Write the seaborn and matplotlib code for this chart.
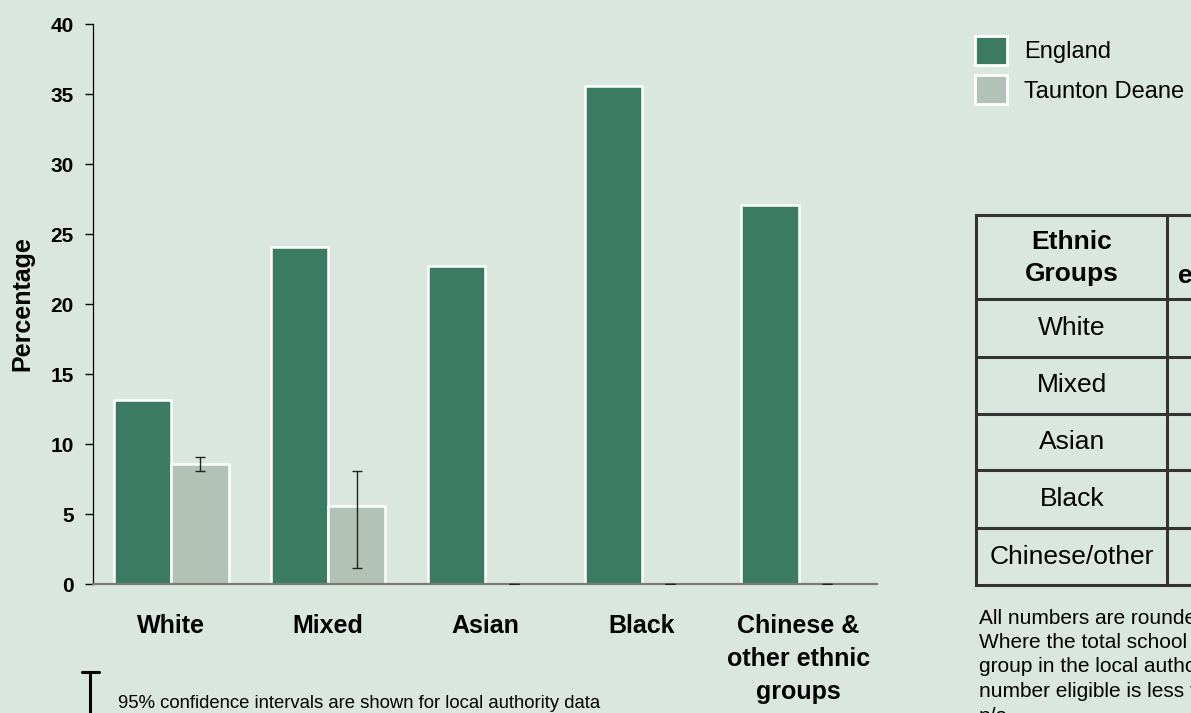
import numpy as np
import pandas as pd
import matplotlib
matplotlib.use("Agg")
import matplotlib.pyplot as plt
import seaborn as sns
from matplotlib.patches import Patch

# Chart data
groups = ["White", "Mixed", "Asian", "Black", "Chinese &\nother ethnic\ngroups"]
series = ["England", "Taunton Deane"]
england = [13.2, 24.1, 22.7, 35.6, 27.1]
taunton = [8.6, 5.6, np.nan, np.nan, np.nan]
ci_low = [8.1, 1.2, 0, 0, 0]
ci_high = [9.1, 8.1, 0, 0, 0]
yticks = [0, 5, 10, 15, 20, 25, 30, 35, 40]

# Side table / notes text
table_header = "Ethnic\nGroups"
table_header_2 = "eligible"
table_groups = ["White", "Mixed", "Asian", "Black", "Chinese/other"]
notes = [
    "All numbers are rounded to the nearest 5.",
    "Where the total school population of an ethnic",
    "group in the local authority is less than 30 or the",
    "number eligible is less than 5, the figure is shown as",
    "n/a",
]
ci_note = "95% confidence intervals are shown for local authority data"

bg = "#dae7de"
colors = ["#3b7b63", "#b2c2b6"]

sns.set_style("white")
plt.rcParams["font.family"] = ["Liberation Sans", "DejaVu Sans"]
plt.rcParams.update({"text.color": "black", "axes.labelcolor": "black",
                     "xtick.color": "black", "ytick.color": "black"})

df = pd.DataFrame({
    "group": groups * 2,
    "area": [series[0]] * len(groups) + [series[1]] * len(groups),
    "value": england + taunton,
})

W, H = 1191, 713
fig = plt.figure(figsize=(W / 100, H / 100), dpi=100, facecolor=bg)
ax = fig.add_axes([93 / W, 1 - 584.3 / H, 784 / W, 560 / H])
ax.set_facecolor(bg)

bar_width = 0.73
sns.barplot(data=df, x="group", y="value", hue="area", order=groups,
            hue_order=series, palette=colors, saturation=1, width=bar_width,
            edgecolor="white", linewidth=1.8, legend=False, ax=ax)

# 95% confidence intervals for the local authority bars
x_la = np.arange(len(groups)) + bar_width / 4
y_la = np.nan_to_num(np.array(taunton))
yerr = [y_la - np.array(ci_low), np.array(ci_high) - y_la]
ax.errorbar(x_la, y_la, yerr=yerr, fmt="none", ecolor="#222222",
            elinewidth=1.0, capsize=3.3, capthick=1.0, zorder=4)

ax.set_xlim(-0.5, len(groups) - 0.5)
ax.set_ylim(0, 40)
ax.set_xlabel("")
ax.set_ylabel("")

ax.set_yticks(yticks)
ax.set_yticklabels([str(t) for t in yticks], fontsize=15, fontweight="bold")
ax.set_xticks(range(len(groups)))
ax.set_xticklabels(groups, fontsize=18, fontweight="bold", linespacing=1.48)
ax.set_xticks(np.arange(-0.5, len(groups), 1), minor=True)
ax.tick_params(axis="x", which="major", length=0, pad=21.5)
ax.tick_params(axis="x", which="minor", length=6.5, width=1, color="#333333")
ax.tick_params(axis="y", length=5.8, width=1, color="black", pad=8, left=True)

for s in ["top", "right"]:
    ax.spines[s].set_visible(False)
ax.spines["bottom"].set_color("#7a7a7a")
ax.spines["bottom"].set_linewidth(1.6)
ax.spines["left"].set_color("black")
ax.spines["left"].set_linewidth(0.9)

fig.text(22 / W, 1 - 304 / H, "Percentage", rotation=90, ha="center",
         va="center", fontsize=18, fontweight="bold")

handles = [Patch(facecolor=c, edgecolor="white", linewidth=2, label=s)
           for c, s in zip(colors, series)]
fig.legend(handles=handles, loc="upper left", bbox_to_anchor=(975 / W, 1 - 36 / H),
           frameon=False, fontsize=17, handlelength=1.35, handleheight=1.5,
           handletextpad=0.72, labelspacing=0.45, borderpad=0, borderaxespad=0)

# overlay in pixel coordinates for the table and notes
ov = fig.add_axes([0, 0, 1, 1])
ov.set_xlim(0, W)
ov.set_ylim(H, 0)
ov.axis("off")

line_kw = dict(color="#333333", lw=2.2, solid_capstyle="projecting")
row_edges = [215, 299, 357, 414, 470, 528, 585]
for y in row_edges:
    ov.plot([976, W + 10], [y, y], **line_kw)
for x in [976, 1167]:
    ov.plot([x, x], [row_edges[0], row_edges[-1]], **line_kw)

ov.text(1072, 258, table_header, ha="center", va="center", fontsize=19,
        fontweight="bold", linespacing=1.45)
ov.text(1178, 276, table_header_2, ha="left", va="center", fontsize=19,
        fontweight="bold")
for i, g in enumerate(table_groups):
    yc = (row_edges[i + 1] + row_edges[i + 2]) / 2
    ov.text(1072, yc, g, ha="center", va="center", fontsize=19)

for i, line in enumerate(notes):
    ov.text(979, 618 + 24.5 * i, line, ha="left", va="center", fontsize=15)

# error bar key
ov.plot([90, 90], [672, 725], color="black", lw=2.2)
ov.plot([82, 99], [672, 672], color="black", lw=2.2)
ov.text(118, 704, ci_note, ha="left", va="center", fontsize=13.3)

fig.savefig("out.png", dpi=100, facecolor=bg)
